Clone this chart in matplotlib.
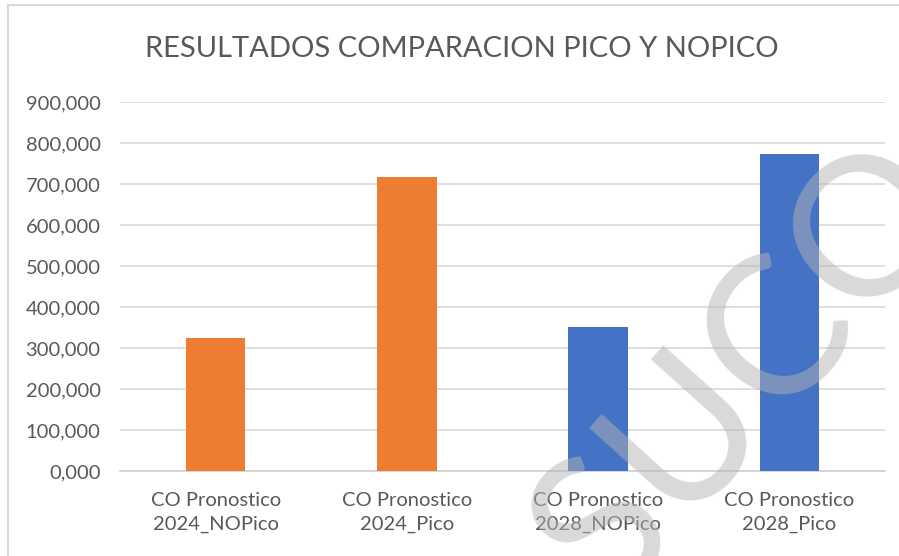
import numpy as np
import matplotlib
matplotlib.use("Agg")
import matplotlib.pyplot as plt
from matplotlib.patches import Rectangle

plt.rcParams['font.family'] = ['Lato', 'DejaVu Sans']

categories = ["CO Pronostico\n2024_NOPico", "CO Pronostico\n2024_Pico",
              "CO Pronostico\n2028_NOPico", "CO Pronostico\n2028_Pico"]
values = [324000, 717000, 351000, 774000]
colors = ["#ED7D31", "#ED7D31", "#4472C4", "#4472C4"]
yticks = np.arange(0, 900001, 100000)
ytick_labels = [f"{int(v/1000)},000" for v in yticks]

fig = plt.figure(figsize=(8.99, 5.56), dpi=100)
ax = fig.add_axes([120/899, 1-471/556, 765/899, 369/556])

x = np.arange(len(categories))
ax.bar(x, values, width=0.31, color=colors, zorder=3)
ax.set_xlim(-0.5, len(categories)-0.5)
ax.set_ylim(0, 900000)
ax.set_yticks(yticks)
ax.set_yticklabels(ytick_labels)
ax.set_xticks(x)
ax.set_xticklabels(categories, linespacing=1.5)
ax.yaxis.grid(True, color="#d9d9d9", linewidth=1.2, zorder=0)
for s in ["top", "right", "left"]:
    ax.spines[s].set_visible(False)
ax.spines["bottom"].set_color("#d0d0d0")
ax.spines["bottom"].set_linewidth(1.2)
ax.tick_params(axis="both", length=0, colors="#595959", labelsize=14.5)
ax.tick_params(axis="y", pad=14)
ax.tick_params(axis="x", pad=15)

fig.text(462/899, 1-49/556, "RESULTADOS COMPARACION PICO Y NOPICO",
         ha="center", va="center", fontsize=21, color="#595959")

# chart frame
fig.patches.append(Rectangle((8/899, -0.1), 1.2, 1-5/556+0.1, transform=fig.transFigure,
                             fill=False, edgecolor="#d9d9d9", linewidth=1.5))

# watermark
fig.text(748/899, 1-370/556, "SUCO", rotation=48, ha="center", va="center",
         fontsize=140, color="#b4b4b4", alpha=0.5)

fig.savefig("out.png", dpi=100)
